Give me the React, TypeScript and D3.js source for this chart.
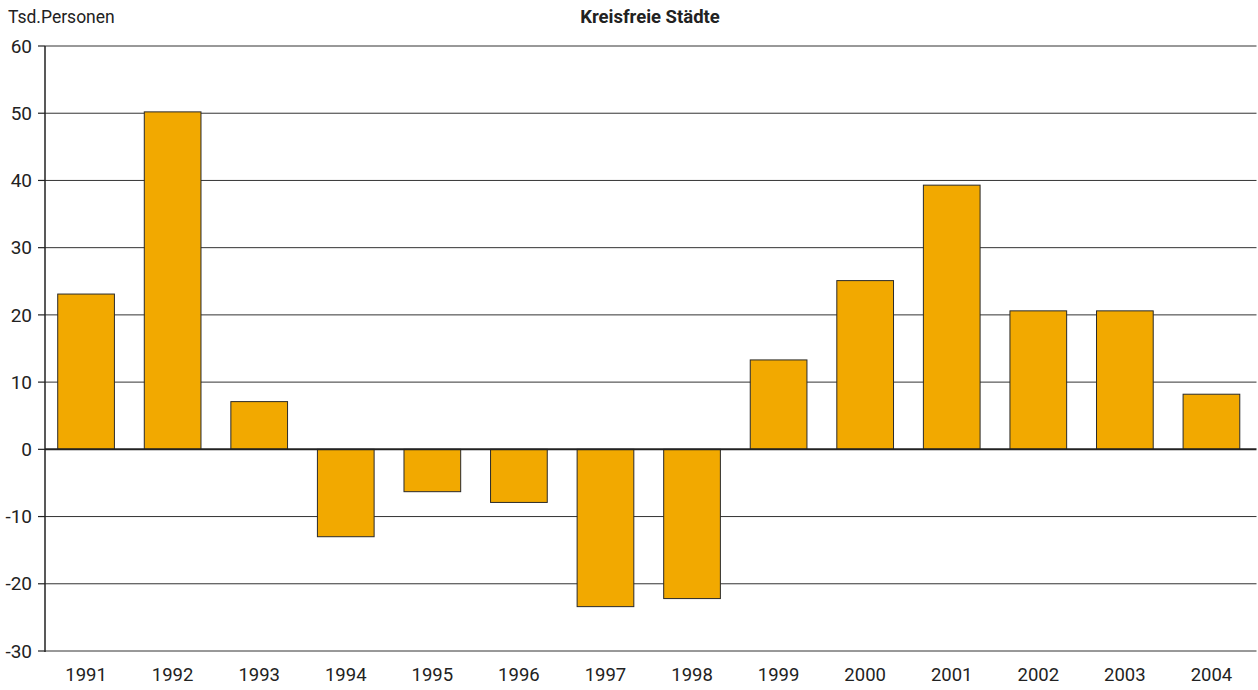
import React from "react";
import * as d3 from "d3";

const years = ["1991","1992","1993","1994","1995","1996","1997","1998","1999","2000","2001","2002","2003","2004"];
const values = [23.1, 50.2, 7.1, -13.0, -6.3, -7.9, -23.4, -22.2, 13.3, 25.1, 39.3, 20.6, 20.6, 8.2];
const yTicks = [60, 50, 40, 30, 20, 10, 0, -10, -20, -30];
const title = "Kreisfreie Städte";
const unitLabel = "Tsd.Personen";

const W = 1258, H = 690;
const left = 45, right = 1256.5, top = 46, bottom = 651;
const font = "'Liberation Sans Narrow', 'Arial Narrow', Roboto, sans-serif";

export default function App() {
  const x = d3.scaleBand<string>().domain(years).range([43, 1254.5]).paddingInner(0.345).paddingOuter(0.17);
  const y = d3.scaleLinear().domain([-30, 60]).range([bottom, top]);
  return (
    <svg width={W} height={H} style={{ position: "absolute", left: 0, top: 0 }}>
      <rect width={W} height={H} fill="#fff" />
      {yTicks.map(t => (
        <g key={t}>
          {t !== 0 && <line x1={left} x2={right} y1={y(t)} y2={y(t)} stroke="#333" strokeWidth={1} />}
          <line x1={left - 7} x2={left} y1={y(t)} y2={y(t)} stroke="#222" strokeWidth={1.2} />
          <text x={left - 13} y={y(t)} dy="0.35em" textAnchor="end" fontFamily={font} fontSize={19} fill="#222">{t}</text>
        </g>
      ))}
      {values.map((v, i) => (
        <rect key={years[i]} x={x(years[i])!} width={x.bandwidth()}
          y={Math.min(y(v), y(0))} height={Math.abs(y(v) - y(0))}
          fill="#F2A900" stroke="#2a2a2a" strokeWidth={1} />
      ))}
      <line x1={left} x2={right} y1={y(0)} y2={y(0)} stroke="#222" strokeWidth={2} />
      <line x1={left} x2={left} y1={top} y2={bottom + 1} stroke="#222" strokeWidth={1.5} />
      {years.map(yr => (
        <text key={yr} x={x(yr)! + x.bandwidth() / 2} y={675} dy="0.35em" textAnchor="middle" fontFamily={font} fontSize={18.5} fill="#222">{yr}</text>
      ))}
      <text x={8} y={17} dy="0.35em" fontFamily={font} fontSize={17.5} fill="#222">{unitLabel}</text>
      <text x={650} y={17} dy="0.35em" textAnchor="middle" fontFamily={font} fontWeight="bold" fontSize={18.5} fill="#222">{title}</text>
    </svg>
  );
}
